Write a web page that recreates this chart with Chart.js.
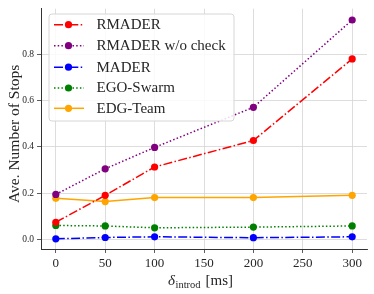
<!DOCTYPE html>
<html>
<head>
<meta charset="utf-8">
<script src="https://cdn.jsdelivr.net/npm/chart.js@4.4.0/dist/chart.umd.min.js"></script>
<style>
  html, body { margin: 0; padding: 0; background: #ffffff; }
  #wrap { width: 374px; height: 294px; position: relative; }
</style>
</head>
<body>
<div id="wrap"><canvas id="c" width="374" height="294"></canvas></div>
<script>
// ---- data ----
const xValues = [0, 50, 100, 200, 300];
const xTicks = [0, 50, 100, 150, 200, 250, 300];
const yTicks = [0.0, 0.2, 0.4, 0.6, 0.8];
const seriesNames = ["RMADER", "RMADER w/o check", "MADER", "EGO-Swarm", "EDG-Team"];
const rmader = [0.073, 0.19, 0.313, 0.428, 0.782];
const rmaderNoCheck = [0.194, 0.305, 0.398, 0.572, 0.951];
const mader = [0.001, 0.007, 0.010, 0.006, 0.010];
const egoSwarm = [0.059, 0.057, 0.049, 0.052, 0.057];
const edgTeam = [0.177, 0.163, 0.180, 0.180, 0.190];

const SERIF = '"Liberation Serif", "DejaVu Serif", serif';
const dashDot = [9, 2.4, 1.5, 2.4];
const dotted = [1.5, 2.2];
const styles = [
  { color: '#ff0000', dash: dashDot },
  { color: '#800080', dash: dotted },
  { color: '#0000ff', dash: dashDot },
  { color: '#008000', dash: dotted },
  { color: '#ffa500', dash: [] }
];
const allSeries = [rmader, rmaderNoCheck, mader, egoSwarm, edgTeam];

const datasets = allSeries.map((vals, i) => ({
  label: seriesNames[i],
  data: xValues.map((x, j) => ({ x: x, y: vals[j] })),
  borderColor: styles[i].color,
  backgroundColor: styles[i].color,
  pointBackgroundColor: styles[i].color,
  pointBorderColor: styles[i].color,
  borderDash: styles[i].dash,
  borderWidth: 1.5,
  pointRadius: 3.6,
  pointBorderWidth: 0,
  pointHoverRadius: 3.6,
  tension: 0,
  fill: false,
  clip: false
}));

const customDraw = {
  id: 'customDraw',
  afterDraw(chart) {
    const ctx = chart.ctx;
    const area = chart.chartArea;
    ctx.save();
    // legend box
    const bx = 49, by = 14, bw = 185, bh = 107, r = 3;
    ctx.beginPath();
    ctx.moveTo(bx + r, by);
    ctx.lineTo(bx + bw - r, by);
    ctx.quadraticCurveTo(bx + bw, by, bx + bw, by + r);
    ctx.lineTo(bx + bw, by + bh - r);
    ctx.quadraticCurveTo(bx + bw, by + bh, bx + bw - r, by + bh);
    ctx.lineTo(bx + r, by + bh);
    ctx.quadraticCurveTo(bx, by + bh, bx, by + bh - r);
    ctx.lineTo(bx, by + r);
    ctx.quadraticCurveTo(bx, by, bx + r, by);
    ctx.closePath();
    ctx.fillStyle = 'rgba(255,255,255,0.85)';
    ctx.fill();
    ctx.strokeStyle = '#d6d6d6';
    ctx.lineWidth = 1;
    ctx.stroke();

    const rowsY = [24.7, 45.7, 67.2, 88.0, 108.3];
    seriesNames.forEach((name, i) => {
      const y = rowsY[i];
      ctx.beginPath();
      ctx.setLineDash(styles[i].dash);
      ctx.strokeStyle = styles[i].color;
      ctx.lineWidth = 1.5;
      ctx.moveTo(54, y);
      ctx.lineTo(84, y);
      ctx.stroke();
      ctx.setLineDash([]);
      ctx.beginPath();
      ctx.fillStyle = styles[i].color;
      ctx.arc(68.5, y, 3.6, 0, Math.PI * 2);
      ctx.fill();
      ctx.fillStyle = '#262626';
      ctx.font = '15px ' + SERIF;
      ctx.textAlign = 'left';
      ctx.textBaseline = 'middle';
      ctx.fillText(name, 96.5, y + 0.5);
    });

    // y axis title
    ctx.save();
    ctx.translate(15, (area.top + area.bottom) / 2 + 5);
    ctx.rotate(-Math.PI / 2);
    ctx.font = '15.5px ' + SERIF;
    ctx.fillStyle = '#262626';
    ctx.textAlign = 'center';
    ctx.textBaseline = 'middle';
    ctx.fillText('Ave. Number of Stops', 0, 0);
    ctx.restore();

    // x axis title: δ_introd [ms]
    ctx.fillStyle = '#262626';
    ctx.textBaseline = 'alphabetic';
    ctx.textAlign = 'left';
    let x = 168;
    const base = 285;
    ctx.font = 'italic 15px ' + SERIF;
    ctx.fillText('δ', x, base);
    x += ctx.measureText('δ').width + 0.5;
    ctx.font = '10.5px ' + SERIF;
    ctx.fillText('introd', x, base + 3);
    x += ctx.measureText('introd').width + 5;
    ctx.font = '15px ' + SERIF;
    ctx.fillText('[ms]', x, base);
    ctx.restore();
  }
};

new Chart(document.getElementById('c'), {
  type: 'line',
  data: { datasets: datasets },
  options: {
    responsive: false,
    animation: false,
    devicePixelRatio: 1,
    layout: { padding: { left: 0, right: 7, top: 6, bottom: 0 } },
    plugins: {
      legend: { display: false },
      tooltip: { enabled: false },
      title: { display: false }
    },
    scales: {
      x: {
        type: 'linear',
        min: -15,
        max: 315,
        afterBuildTicks(scale) { scale.ticks = xTicks.map(v => ({ value: v })); },
        afterFit(scale) { scale.height = 45; },
        ticks: {
          callback: v => String(v),
          font: { family: SERIF, size: 13 },
          color: '#262626',
          padding: 3,
          maxRotation: 0,
          autoSkip: false
        },
        grid: { color: '#d4d4d4', lineWidth: 0.8, tickLength: 4, tickColor: '#333', drawOnChartArea: true },
        border: { display: true, color: '#333', width: 1 }
      },
      y: {
        type: 'linear',
        min: -0.043,
        max: 1.0,
        afterBuildTicks(scale) { scale.ticks = yTicks.map(v => ({ value: v })); },
        afterFit(scale) { scale.width = 41; },
        ticks: {
          callback: v => Number(v).toFixed(1),
          font: { family: SERIF, size: 9.5 },
          color: '#262626',
          padding: 3,
          autoSkip: false
        },
        grid: { color: '#d4d4d4', lineWidth: 0.8, tickLength: 4, tickColor: '#333', drawOnChartArea: true },
        border: { display: true, color: '#333', width: 1 }
      }
    }
  },
  plugins: [customDraw]
});
</script>
</body>
</html>
